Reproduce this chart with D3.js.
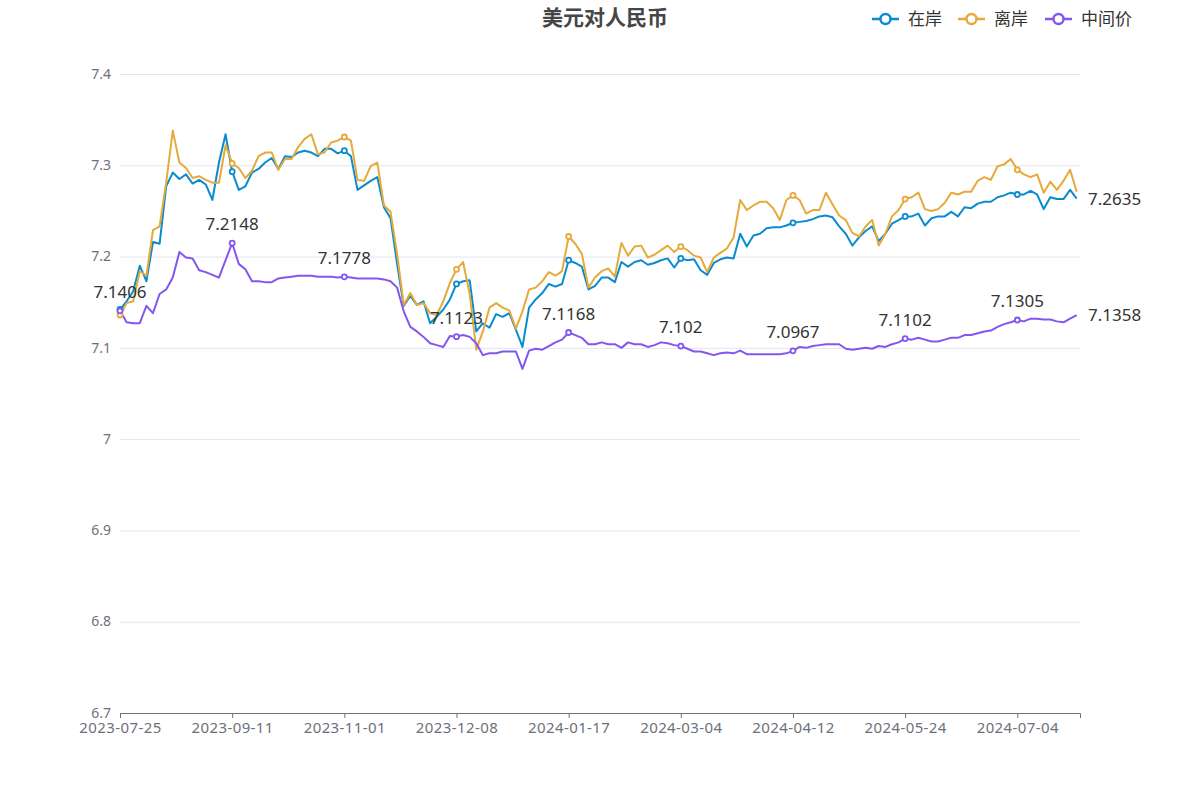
<!DOCTYPE html>
<html>
<head>
<meta charset="utf-8">
<script src="https://cdn.jsdelivr.net/npm/d3@7"></script>
<style>
  body { margin: 0; background: #fff; }
  svg { display: block; font-family: "Noto Sans", "Noto Sans CJK SC", sans-serif; }
</style>
</head>
<body>
<div id="chart"></div>
<script>
let width = 1200
let height = 800

let seriesNames = ['在岸', '离岸', '中间价']
let colors = ['#0a8bd0', '#e6a93a', '#8456f0']

let tickLabels = ['2023-07-25', '2023-09-11', '2023-11-01', '2023-12-08', '2024-01-17',
    '2024-03-04', '2024-04-12', '2024-05-24', '2024-07-04']
let yTicks = [6.7, 6.8, 6.9, 7.0, 7.1, 7.2, 7.3, 7.4]

// 在岸
let onshore = [
    7.142, 7.151, 7.162, 7.190, 7.173, 7.216, 7.214, 7.277, 7.292, 7.285,
    7.290, 7.280, 7.284, 7.279, 7.262, 7.303, 7.334, 7.293, 7.273, 7.277,
    7.292, 7.296, 7.303, 7.308, 7.296, 7.310, 7.309, 7.314, 7.316, 7.314,
    7.310, 7.318, 7.318, 7.313, 7.316, 7.310, 7.273, 7.278, 7.283, 7.287,
    7.254, 7.242, 7.192, 7.146, 7.157, 7.147, 7.151, 7.127, 7.134, 7.142,
    7.153, 7.170, 7.173, 7.174, 7.118, 7.127, 7.122, 7.137, 7.134, 7.138,
    7.120, 7.101, 7.144, 7.153, 7.160, 7.170, 7.167, 7.170, 7.196, 7.193,
    7.189, 7.164, 7.168, 7.177, 7.177, 7.172, 7.194, 7.189, 7.194, 7.196,
    7.191, 7.193, 7.196, 7.198, 7.188, 7.198, 7.196, 7.197, 7.185, 7.180,
    7.193, 7.197, 7.199, 7.198, 7.225, 7.211, 7.223, 7.225, 7.231, 7.232,
    7.232, 7.234, 7.237, 7.238, 7.239, 7.241, 7.244, 7.245, 7.243, 7.233,
    7.225, 7.212, 7.221, 7.228, 7.233, 7.217, 7.225, 7.236, 7.240, 7.244,
    7.244, 7.247, 7.234, 7.242, 7.244, 7.244, 7.249, 7.244, 7.254, 7.253,
    7.258, 7.260, 7.260, 7.265, 7.267, 7.270, 7.268, 7.268, 7.272, 7.268,
    7.252, 7.265, 7.263, 7.263, 7.273, 7.2635
]

// 离岸
let offshore = [
    7.136, 7.149, 7.151, 7.184, 7.179, 7.229, 7.233, 7.281, 7.338, 7.303,
    7.297, 7.286, 7.288, 7.284, 7.281, 7.281, 7.322, 7.302, 7.297, 7.286,
    7.294, 7.310, 7.314, 7.314, 7.295, 7.307, 7.307, 7.320, 7.329, 7.334,
    7.312, 7.314, 7.325, 7.327, 7.331, 7.327, 7.284, 7.283, 7.299, 7.303,
    7.256, 7.249, 7.203, 7.147, 7.160, 7.147, 7.149, 7.138, 7.136, 7.151,
    7.171, 7.186, 7.194, 7.159, 7.098, 7.118, 7.144, 7.149, 7.144, 7.141,
    7.121, 7.140, 7.164, 7.166, 7.173, 7.183, 7.179, 7.184, 7.222, 7.214,
    7.203, 7.166, 7.177, 7.184, 7.187, 7.178, 7.215, 7.201, 7.211, 7.212,
    7.199, 7.202, 7.207, 7.212, 7.205, 7.211, 7.207, 7.201, 7.199, 7.183,
    7.199, 7.204, 7.209, 7.221, 7.262, 7.251, 7.256, 7.260, 7.260, 7.253,
    7.240, 7.262, 7.267, 7.262, 7.247, 7.251, 7.251, 7.270, 7.257, 7.245,
    7.240, 7.226, 7.222, 7.233, 7.240, 7.212, 7.225, 7.244, 7.251, 7.263,
    7.265, 7.270, 7.252, 7.250, 7.252, 7.259, 7.270, 7.268, 7.271, 7.271,
    7.283, 7.287, 7.284, 7.299, 7.301, 7.307, 7.295, 7.290, 7.287, 7.290,
    7.270, 7.282, 7.273, 7.283, 7.295, 7.271
]

// 中间价
let central = [
    7.1406, 7.128, 7.127, 7.127, 7.146, 7.138, 7.159, 7.164, 7.177, 7.205,
    7.199, 7.198, 7.185, 7.183, 7.180, 7.177, 7.196, 7.2148, 7.192, 7.186,
    7.173, 7.173, 7.172, 7.172, 7.176, 7.177, 7.178, 7.179, 7.179, 7.179,
    7.178, 7.178, 7.178, 7.177, 7.1778, 7.177, 7.176, 7.176, 7.176, 7.176,
    7.175, 7.173, 7.166, 7.140, 7.123, 7.118, 7.112, 7.105, 7.103, 7.101,
    7.113, 7.1123, 7.114, 7.112, 7.105, 7.092, 7.094, 7.094, 7.096, 7.096,
    7.096, 7.077, 7.097, 7.099, 7.098, 7.102, 7.106, 7.109, 7.1168, 7.114,
    7.111, 7.104, 7.104, 7.106, 7.104, 7.104, 7.100, 7.106, 7.104, 7.104,
    7.101, 7.103, 7.106, 7.105, 7.103, 7.102, 7.099, 7.096, 7.096, 7.094,
    7.092, 7.094, 7.095, 7.094, 7.097, 7.093, 7.093, 7.093, 7.093, 7.093,
    7.093, 7.094, 7.0967, 7.101, 7.100, 7.102, 7.103, 7.104, 7.104, 7.104,
    7.099, 7.098, 7.099, 7.100, 7.099, 7.102, 7.101, 7.104, 7.106, 7.1102,
    7.109, 7.111, 7.109, 7.107, 7.107, 7.109, 7.111, 7.111, 7.114, 7.114,
    7.116, 7.118, 7.119, 7.123, 7.126, 7.128, 7.1305, 7.129, 7.132, 7.132,
    7.131, 7.131, 7.129, 7.128, 7.132, 7.1358
]

let allSeries = [onshore, offshore, central]
let lastIdx = onshore.length - 1
let labelEvery = 17
let markIdx = d3.range(0, lastIdx, labelEvery)

let svg = d3.select('#chart').append('svg')
    .attr('width', width)
    .attr('height', height)

let x = d3.scaleLinear()
    .domain([0, 145.5])
    .range([120, 1080])
let y = d3.scaleLinear()
    .domain([6.7, 7.4])
    .range([713, 74])

// grid
svg.append('g')
    .attr('transform', 'translate(120,0)')
    .call(d3.axisLeft(y).tickValues(yTicks).tickSize(-960).tickFormat(''))
    .call(g => g.select('.domain').remove())
    .call(g => g.selectAll('line').attr('stroke', '#e0e6f1'))

// y labels
svg.append('g')
    .attr('transform', 'translate(120,0)')
    .call(d3.axisLeft(y).tickValues(yTicks).tickSize(0).tickPadding(9)
        .tickFormat(d => String(+d.toFixed(1))))
    .call(g => g.select('.domain').remove())
    .call(g => g.selectAll('text')
        .attr('fill', '#6e7079')
        .attr('dy', '0.3em')
        .style('font-size', '14px')
        .style('font-family', '"Noto Sans", sans-serif'))

// x axis
svg.append('g')
    .attr('transform', 'translate(0,713)')
    .call(d3.axisBottom(x).tickValues(markIdx).tickSize(5).tickSizeOuter(5).tickPadding(4)
        .tickFormat((d, i) => tickLabels[i]))
    .call(g => g.select('.domain').attr('stroke', '#6e7079'))
    .call(g => g.selectAll('line').attr('stroke', '#6e7079'))
    .call(g => g.selectAll('text')
        .attr('fill', '#6e7079')
        .style('font-size', '15px')
        .style('letter-spacing', '0.4px')
        .style('font-family', '"Noto Sans", sans-serif'))

let line = d3.line()
    .x((d, i) => x(i))
    .y(d => y(d))

// lines, purple last on top
allSeries.forEach((data, s) => {
    svg.append('path')
        .datum(data)
        .attr('d', line)
        .attr('fill', 'none')
        .attr('stroke', colors[s])
        .attr('stroke-width', 2)
        .attr('stroke-linejoin', 'round')
})

allSeries.forEach((data, s) => {
    svg.append('g').selectAll('circle')
        .data(markIdx)
        .join('circle')
        .attr('cx', d => x(d))
        .attr('cy', d => y(data[d]))
        .attr('r', 2.5)
        .attr('fill', '#fff')
        .attr('stroke', colors[s])
        .attr('stroke-width', 1.8)
})

// labels on the 中间价 markers
svg.append('g').selectAll('text')
    .data(markIdx)
    .join('text')
    .attr('x', d => x(d))
    .attr('y', d => y(central[d]) - 13)
    .attr('text-anchor', 'middle')
    .attr('fill', '#333')
    .style('font-size', '17px')
    .text(d => String(central[d]))

// end labels
;[onshore, central].forEach(data => {
    svg.append('text')
        .attr('x', 1088)
        .attr('y', y(data[lastIdx]))
        .attr('dy', '0.35em')
        .attr('fill', '#333')
        .style('font-size', '17px')
        .text(String(data[lastIdx]))
})

// title
svg.append('text')
    .attr('x', 605)
    .attr('y', 25)
    .attr('text-anchor', 'middle')
    .attr('fill', '#464646')
    .style('font-size', '21px')
    .style('font-weight', 'bold')
    .style('font-family', '"Noto Sans CJK SC", sans-serif')
    .text('美元对人民币')

// legend
let legendX = [872, 958, 1045]
seriesNames.forEach((name, s) => {
    let g = svg.append('g').attr('transform', `translate(${legendX[s]},19)`)
    g.append('line')
        .attr('x1', 0).attr('x2', 27)
        .attr('stroke', colors[s])
        .attr('stroke-width', 2.5)
    g.append('circle')
        .attr('cx', 13.5)
        .attr('r', 5)
        .attr('fill', '#fff')
        .attr('stroke', colors[s])
        .attr('stroke-width', 2.5)
    g.append('text')
        .attr('x', 36)
        .attr('dy', '0.35em')
        .attr('fill', '#333')
        .style('font-size', '17px')
        .style('font-family', '"Noto Sans CJK SC", sans-serif')
        .text(name)
})
</script>
</body>
</html>
